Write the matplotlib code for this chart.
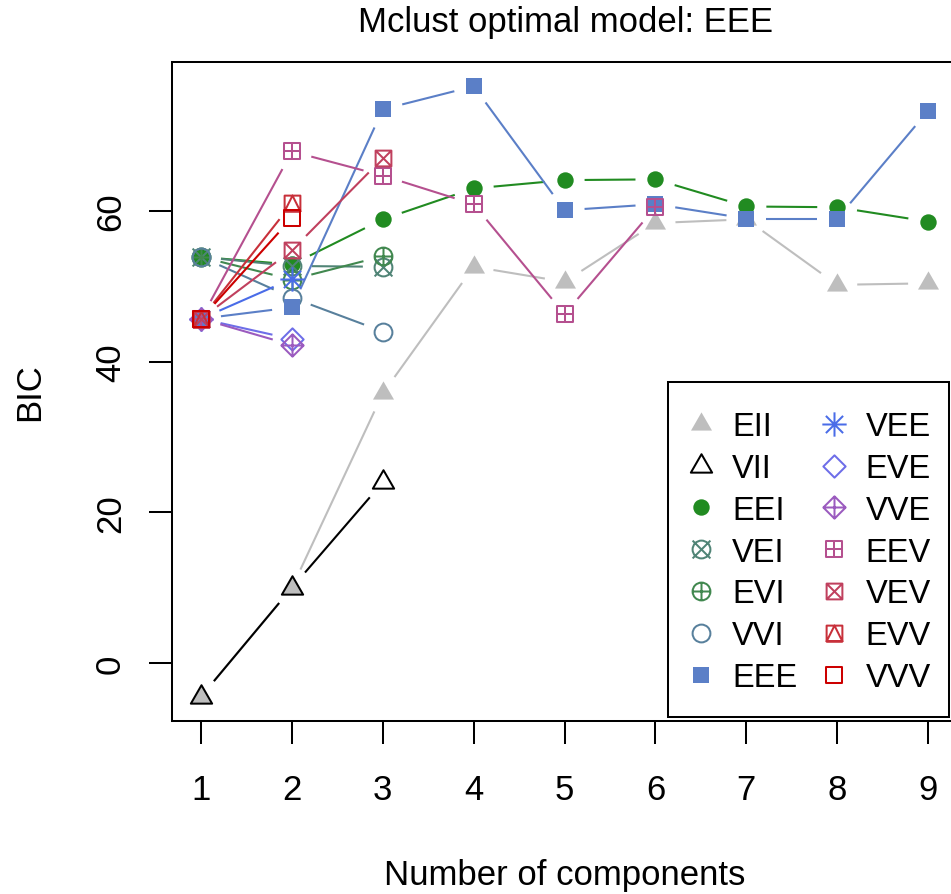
import numpy as np
import matplotlib
matplotlib.use("Agg")
import matplotlib.pyplot as plt
from matplotlib.path import Path
from matplotlib.lines import Line2D
from matplotlib.patches import Rectangle

plt.rcParams['font.family'] = ['Liberation Sans', 'DejaVu Sans']

# BIC values (nan = not fitted)
nan = np.nan
components = [1, 2, 3, 4, 5, 6, 7, 8, 9]
models = ["EII", "VII", "EEI", "VEI", "EVI", "VVI", "EEE",
          "VEE", "EVE", "VVE", "EEV", "VEV", "EVV", "VVV"]
EII = [-4.45, 10.0, 35.8, 52.6, 50.6, 58.4, 58.9, 50.2, 50.4]
VII = [-4.45, 10.0, 24.0, nan, nan, nan, nan, nan, nan]
EEI = [53.9, 52.9, 58.9, 63.0, 64.1, 64.2, 60.6, 60.5, 58.6]
VEI = [53.9, 52.7, 52.6, nan, nan, nan, nan, nan, nan]
EVI = [53.9, 50.9, 54.0, nan, nan, nan, nan, nan, nan]
VVI = [53.9, 48.5, 44.0, nan, nan, nan, nan, nan, nan]
EEE = [45.7, 47.2, 73.5, 76.55, 60.1, 60.9, 59.0, 59.0, 73.3]
VEE = [45.7, 51.0, nan, nan, nan, nan, nan, nan, nan]
EVE = [45.7, 43.0, nan, nan, nan, nan, nan, nan, nan]
VVE = [45.7, 42.2, nan, nan, nan, nan, nan, nan, nan]
EEV = [45.7, 67.9, 64.7, 60.9, 46.3, 60.5, nan, nan, nan]
VEV = [45.7, 54.8, 67.0, nan, nan, nan, nan, nan, nan]
EVV = [45.7, 61.0, nan, nan, nan, nan, nan, nan, nan]
VVV = [45.7, 59.1, nan, nan, nan, nan, nan, nan, nan]
bic = dict(EII=EII, VII=VII, EEI=EEI, VEI=VEI, EVI=EVI, VVI=VVI, EEE=EEE,
           VEE=VEE, EVE=EVE, VVE=VVE, EEV=EEV, VEV=VEV, EVV=EVV, VVV=VVV)

colors = dict(EII="#BEBEBE", VII="black", EEI="#218B21", VEI="#508476",
              EVI="#41884F", VVI="#58809C", EEE="#5B7FC7", VEE="#4A6CE8",
              EVE="#6E6EE8", VVE="#9B5BBF", EEV="#B5508F", VEV="#C0405E",
              EVV="#C8303A", VVV="#CC0000")


# ---- R style point symbols as paths ----
def seg(*pairs):
    verts, codes = [], []
    for a, b in pairs:
        verts += [a, b]
        codes += [Path.MOVETO, Path.LINETO]
    return Path(verts, codes)


def poly(pts):
    return Path(list(pts) + [pts[0]],
                [Path.MOVETO] + [Path.LINETO] * (len(pts) - 1) + [Path.CLOSEPOLY])


def comp(*paths):
    return Path.make_compound_path(*paths)


SQ, DM = 0.886, 1.253
circ = Path.circle((0, 0), 1.0)
square = poly([(-SQ, -SQ), (SQ, -SQ), (SQ, SQ), (-SQ, SQ)])
diamond = poly([(0, -DM), (DM, 0), (0, DM), (-DM, 0)])
tri = poly([(-1.347, -0.778), (1.347, -0.778), (0, 1.555)])
plus1 = seg(((-1, 0), (1, 0)), ((0, -1), (0, 1)))
x1 = seg(((-1, -1), (1, 1)), ((-1, 1), (1, -1)))
sqplus = seg(((-SQ, 0), (SQ, 0)), ((0, -SQ), (0, SQ)))
sqx = seg(((-SQ, -SQ), (SQ, SQ)), ((-SQ, SQ), (SQ, -SQ)))
dmplus = seg(((-DM, 0), (DM, 0)), ((0, -DM), (0, DM)))
sqtri = poly([(-SQ, -SQ), (SQ, -SQ), (0, SQ)])
star = seg(((-1.414, 0), (1.414, 0)), ((0, -1.414), (0, 1.414)),
           ((-1, -1), (1, 1)), ((-1, 1), (1, -1)))

# (path, unit size in px, filled)
symbols = dict(
    EII=(tri, 7.8, True), VII=(tri, 7.9, False), EEI=(circ, 8.2, True),
    VEI=(comp(circ, x1), 8.9, False), EVI=(comp(circ, plus1), 8.9, False),
    VVI=(circ, 8.9, False), EEE=(square, 9.0, True), VEE=(star, 8.6, False),
    EVE=(diamond, 8.9, False), VVE=(comp(diamond, dmplus), 8.9, False),
    EEV=(comp(square, sqplus), 8.9, False), VEV=(comp(square, sqx), 8.9, False),
    EVV=(comp(square, sqtri), 8.9, False), VVV=(square, 8.9, False))


def marker_kw(name):
    path, unit, filled = symbols[name]
    ms = 2 * np.abs(path.vertices).max() * unit * 0.72
    c = colors[name]
    return dict(marker=path, markersize=ms, markeredgecolor=c,
                markerfacecolor=c if filled else "none",
                markeredgewidth=0 if filled else 1.45)


fig = plt.figure(figsize=(9.51, 8.95), dpi=100)
W, H = 951, 895
ax = fig.add_axes([172 / W, (H - 722) / H, 785.2 / W, 659 / H])
ax.set_xlim(0.68, 9.32)
ax.set_ylim(-7.70, 79.78)

GAP = 20  # px, R type="b" gap around points
inv = ax.transData.inverted()
for i, name in enumerate(models):
    y = np.array(bic[name], dtype=float)
    x = np.array(components, dtype=float)
    z = 2 + i * 0.2
    pts = ax.transData.transform(np.column_stack([x, y]))
    for k in range(len(x) - 1):
        if np.isnan(y[k]) or np.isnan(y[k + 1]):
            continue
        d = pts[k + 1] - pts[k]
        L = np.hypot(*d)
        if L <= 2 * GAP:
            continue
        u = d / L
        a, b = inv.transform([pts[k] + u * GAP, pts[k + 1] - u * GAP])
        ax.plot([a[0], b[0]], [a[1], b[1]], color=colors[name], lw=1.5,
                solid_capstyle="butt", zorder=z)
    ax.plot(x, y, linestyle="none", zorder=z + 0.1, clip_on=False, **marker_kw(name))

for s in ax.spines.values():
    s.set_linewidth(1.45)
ax.set_xticks(components)
ax.set_yticks([0, 20, 40, 60])
ax.tick_params(axis="both", direction="out", length=16.5, width=1.45, labelsize=25)
ax.tick_params(axis="x", pad=21)
ax.tick_params(axis="y", pad=16, labelrotation=90)
for lab in ax.get_yticklabels():
    lab.set_va("center")

fig.text(565 / W, 1 - 32 / H, "Mclust optimal model: EEE", ha="center", va="baseline", fontsize=25)
fig.text(565 / W, 1 - 885 / H, "Number of components", ha="center", va="baseline", fontsize=25)
fig.text(39 / W, 1 - 392 / H, "BIC", ha="center", va="baseline", rotation=90,
         rotation_mode="anchor", fontsize=25)

# legend box (R style, bottom right)
box = Rectangle((668 / W, 1 - 718 / H), 281 / W, 335 / H, transform=fig.transFigure,
                facecolor="white", edgecolor="black", linewidth=1.45, zorder=4.9,
                clip_on=False)
ax.add_patch(box)
handles = [Line2D([], [], linestyle="none", **marker_kw(n)) for n in models]
leg = ax.legend(handles, models, ncol=2, loc="upper left",
                bbox_to_anchor=(668 / W, 1 - 396 / H), bbox_transform=fig.transFigure,
                frameon=False, borderpad=0.5, labelspacing=0.33, handlelength=1.02,
                handletextpad=0.45, columnspacing=0.62, fontsize=23.5, borderaxespad=0)
leg.set_zorder(5)

fig.savefig("out.png", dpi=100)
